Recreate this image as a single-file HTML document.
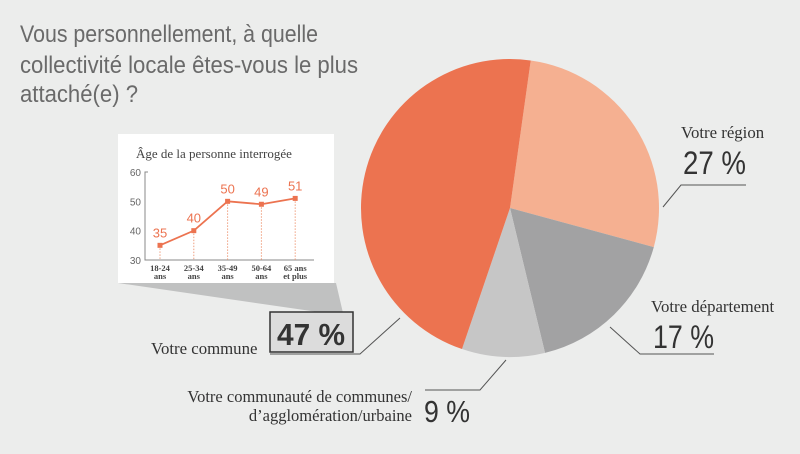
<!DOCTYPE html>
<html><head><meta charset="utf-8"><style>
body{margin:0;background:#ecedec;}
svg{display:block;}
.serif{font-family:"Liberation Serif",serif;}
.sans{font-family:"Liberation Sans",sans-serif;}
</style></head><body>
<svg id="chart" width="800" height="454" viewBox="0 0 800 454">
<rect width="800" height="454" fill="#ecedec"/>
<g class="sans" font-size="24" fill="#6a6a6a">
<text x="20" y="42" textLength="298" lengthAdjust="spacingAndGlyphs">Vous personnellement, à quelle</text>
<text x="20" y="73" textLength="338" lengthAdjust="spacingAndGlyphs">collectivité locale êtes-vous le plus</text>
<text x="20" y="102" textLength="118" lengthAdjust="spacingAndGlyphs">attaché(e) ?</text>
</g>
<g id="pie"></g>
<polygon points="118,283 336,283 343,313 325,313" fill="#c0c1c1"/>
<rect x="118" y="134" width="216" height="149" fill="#fff"/>
<text x="136" y="158" class="serif" font-size="13" fill="#444">Âge de la personne interrogée</text>
<g id="inset"></g>
<text x="681" y="138" class="serif" font-size="16.8" fill="#333">Votre région</text>
<text x="683" y="174" class="sans" font-size="32" fill="#333" textLength="63" lengthAdjust="spacingAndGlyphs">27 %</text>
<polyline points="663,207 681,185 746,185" fill="none" stroke="#555" stroke-width="1"/>
<text x="651" y="312" class="serif" font-size="16.8" fill="#333">Votre département</text>
<text x="653" y="348" class="sans" font-size="32" fill="#333" textLength="61" lengthAdjust="spacingAndGlyphs">17 %</text>
<polyline points="610,327 640,354 714,354" fill="none" stroke="#555" stroke-width="1"/>
<rect x="270" y="312" width="83" height="40" fill="#dcdcdc" stroke="#333" stroke-width="1.5"/>
<text x="277" y="345" class="sans" font-size="31" font-weight="bold" fill="#333" textLength="68" lengthAdjust="spacingAndGlyphs">47 %</text>
<text x="151" y="354" class="serif" font-size="16.8" fill="#333">Votre commune</text>
<polyline points="270,354 360,354 400,318" fill="none" stroke="#555" stroke-width="1"/>
<g class="serif" font-size="16.5" fill="#333" text-anchor="end">
<text x="412" y="402">Votre communauté de communes/</text>
<text x="412" y="421">d’agglomération/urbaine</text>
</g>
<text x="424" y="422" class="sans" font-size="31" fill="#333" textLength="46" lengthAdjust="spacingAndGlyphs">9 %</text>
<polyline points="425,390 480,390 506,360" fill="none" stroke="#555" stroke-width="1"/>
</svg>
<script>
const sliceNames=["region","departement","communaute","commune"];
const sliceValues=[27,17,9,47];
const sliceColors=["#f5b091","#a2a2a3","#c6c6c6","#ec7350"];
const ageCats=[["18-24","ans"],["25-34","ans"],["35-49","ans"],["50-64","ans"],["65 ans","et plus"]];
const ageValues=[35,40,50,49,51];
const yTicks=[30,40,50,60];

const NS="http://www.w3.org/2000/svg";
function mk(t,a,p){const e=document.createElementNS(NS,t);for(const k in a)e.setAttribute(k,a[k]);p.appendChild(e);return e;}
const pie=document.getElementById('pie');
const cx=510,cy=208,r=149,start=8;
const total=sliceValues.reduce((a,b)=>a+b,0);
let ang=start;
sliceValues.forEach((v,i)=>{
  const a0=ang,a1=ang+v/total*360;ang=a1;
  const p=a=>[cx+r*Math.sin(a*Math.PI/180),cy-r*Math.cos(a*Math.PI/180)];
  const [x0,y0]=p(a0),[x1,y1]=p(a1);
  const path=mk('path',{d:`M${cx},${cy}L${x0},${y0}A${r},${r} 0 ${a1-a0>180?1:0} 1 ${x1},${y1}Z`,fill:sliceColors[i]},pie);
  
  
});
const g=document.getElementById('inset');
const X=i=>160+i*33.8;
const Y=v=>260-(v-30)*(88/30);
const ax=mk('polyline',{points:`148,${Y(60)} 145,${Y(60)} 145,260 314,260`,fill:'none',stroke:'#888','stroke-width':1},g);


yTicks.forEach(t=>{
  const tx=mk('text',{x:141,y:Y(t)+4,'text-anchor':'end','font-size':10,fill:'#666','font-family':'Liberation Sans, sans-serif'},g);tx.textContent=t;
  
  
});
let pts=[];
ageValues.forEach((v,i)=>{
  const dl=mk('line',{x1:X(i),x2:X(i),y1:Y(v),y2:260,stroke:'#f0a080','stroke-width':1,'stroke-dasharray':'1.5,1.5'},g);
  
  
  pts.push(X(i)+','+Y(v));
});
const ln=mk('polyline',{points:pts.join(' '),fill:'none',stroke:'#ec7350','stroke-width':1.8},g);


ageValues.forEach((v,i)=>{
  const m=mk('rect',{x:X(i)-2.5,y:Y(v)-2.5,width:5,height:5,fill:'#ec7350'},g);
  
  
  const t=mk('text',{x:X(i),y:Y(v)-8,'text-anchor':'middle','font-size':13,fill:'#ec7350','font-family':'Liberation Sans, sans-serif'},g);t.textContent=v;
  
  
  ageCats[i].forEach((s,j)=>{
    const c=mk('text',{x:X(i),y:271+j*8,'text-anchor':'middle','font-size':8.5,'font-weight':'bold',fill:'#444','font-family':'Liberation Serif, serif'},g);c.textContent=s;
    
    
  });
});
</script>
</body></html>
